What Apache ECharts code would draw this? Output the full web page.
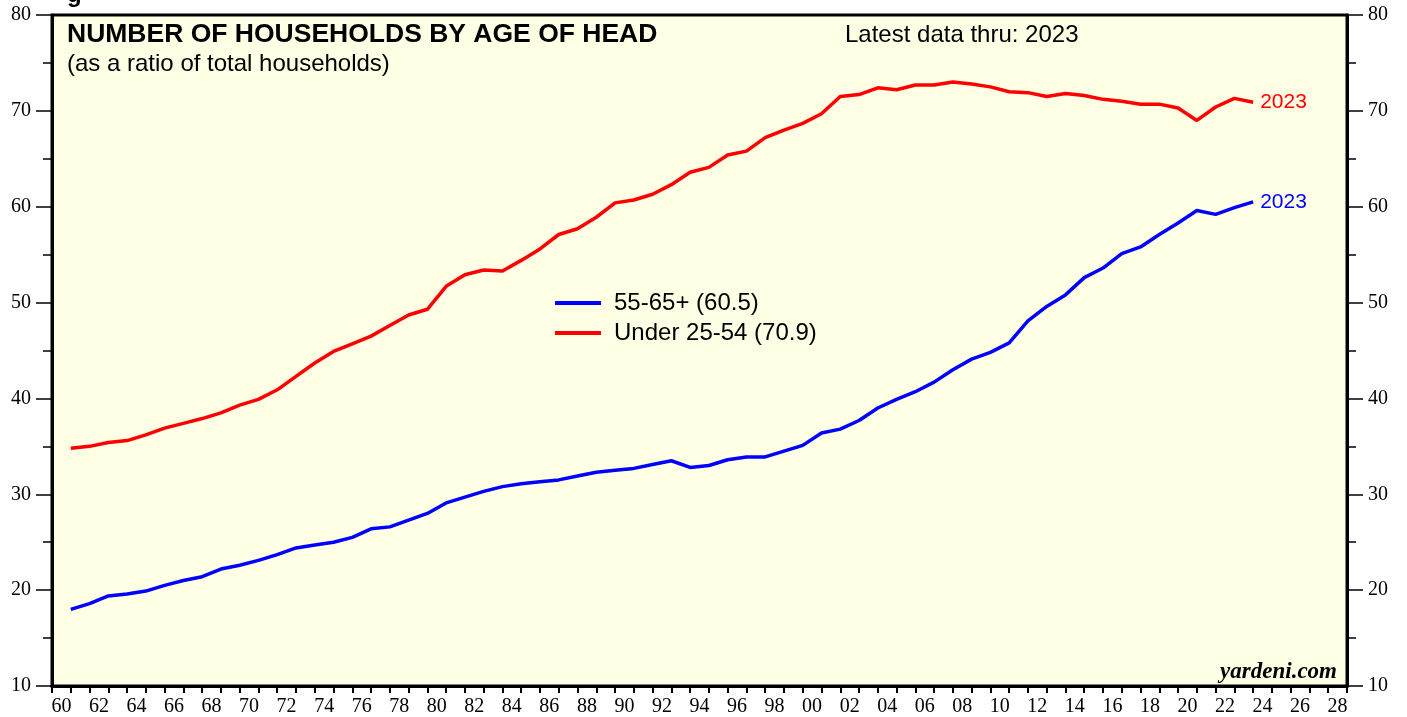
<!DOCTYPE html>
<html>
<head>
<meta charset="utf-8">
<script src="https://cdn.jsdelivr.net/npm/echarts@6/dist/echarts.min.js"></script>
<style>
html,body{margin:0;padding:0;background:#fff;}
#c{width:1407px;height:717px;}
</style>
</head>
<body>
<div id="c"></div>
<script>
// ---- data ----
var years = [1960,1961,1962,1963,1964,1965,1966,1967,1968,1969,
             1970,1971,1972,1973,1974,1975,1976,1977,1978,1979,
             1980,1981,1982,1983,1984,1985,1986,1987,1988,1989,
             1990,1991,1992,1993,1994,1995,1996,1997,1998,1999,
             2000,2001,2002,2003,2004,2005,2006,2007,2008,2009,
             2010,2011,2012,2013,2014,2015,2016,2017,2018,2019,
             2020,2021,2022,2023];
var under2554 = [34.8,35.0,35.4,35.6,36.2,36.9,37.4,37.9,38.5,39.3,
                 39.9,40.9,42.3,43.7,44.9,45.7,46.5,47.6,48.7,49.3,
                 51.7,52.9,53.4,53.3,54.4,55.6,57.1,57.7,58.9,60.4,
                 60.7,61.3,62.3,63.6,64.1,65.4,65.8,67.2,68.0,68.7,
                 69.7,71.5,71.7,72.4,72.2,72.7,72.7,73.0,72.8,72.5,
                 72.0,71.9,71.5,71.8,71.6,71.2,71.0,70.7,70.7,70.3,
                 69.0,70.4,71.3,70.9];
var age5565 = [18.0,18.6,19.4,19.6,19.9,20.5,21.0,21.4,22.2,22.6,
               23.1,23.7,24.4,24.7,25.0,25.5,26.4,26.6,27.3,28.0,
               29.1,29.7,30.3,30.8,31.1,31.3,31.5,31.9,32.3,32.5,
               32.7,33.1,33.5,32.8,33.0,33.6,33.9,33.9,34.5,35.1,
               36.4,36.8,37.7,39.0,39.9,40.7,41.7,43.0,44.1,44.8,
               45.8,48.1,49.6,50.8,52.6,53.6,55.1,55.8,57.1,58.3,
               59.6,59.2,59.9,60.5];
var axisYears = [];
for (var y = 1960; y <= 2028; y++) axisYears.push(String(y));
var seriesNames = ['55-65+ (60.5)', 'Under 25-54 (70.9)'];
var titleText = 'NUMBER OF HOUSEHOLDS BY AGE OF HEAD';
var subtitleText = '(as a ratio of total households)';
var latestText = 'Latest data thru: 2023';
var endLabelText = '2023';

function pairs(vals){ return years.map(function(yr,i){ return [yr, vals[i]]; }); }

var chart = echarts.init(document.getElementById('c'), null, {renderer:'canvas'});
var serif = 'Liberation Serif';
var sans = 'Liberation Sans';
var option = {
  backgroundColor: '#ffffff',
  animation: false,
  grid: {left:52, right:60, top:15, bottom:31, show:true, backgroundColor:'#FFFFE5', borderColor:'#000', borderWidth:3},
  legend: {
    show: true, orient:'vertical', left:550, top:286, itemWidth:46, itemHeight:4, itemGap:6,
    icon:'rect',
    textStyle:{fontFamily:sans, fontSize:24, color:'#000', padding:[0,0,0,8]},
    data: seriesNames
  },
  graphic: [
    {type:'text', left:67, top:21, style:{text:titleText, font:'bold 26.5px "Liberation Sans"', fill:'#000'}},
    {type:'text', left:67, top:52, style:{text:subtitleText, font:'24px "Liberation Sans"', fill:'#000'}},
    {type:'text', left:845, top:23, style:{text:latestText, font:'24px "Liberation Sans"', fill:'#000'}},
    {type:'text', right:70, top:661, style:{text:'yardeni.com', font:'italic bold 23px "Liberation Serif"', fill:'#000'}},
    {type:'text', left:67, top:-17, style:{text:'g', font:'bold 24px "Liberation Sans"', fill:'#000'}}
  ],
  xAxis: [
    {type:'category', data:axisYears, boundaryGap:true, position:'bottom',
     axisLine:{show:true, lineStyle:{color:'#000', width:3}},
     axisTick:{show:true, interval:0, alignWithLabel:false, length:7, lineStyle:{color:'#000', width:2}},
     axisLabel:{interval:1, margin:11, fontFamily:serif, fontSize:20, color:'#000',
       formatter:function(v){ return v.slice(2); }},
     splitLine:{show:false}},
    {type:'value', min:1959, max:2028, show:false}
  ],
  yAxis: [
    {type:'value', min:10, max:80, interval:10, position:'left',
     axisLine:{show:true, lineStyle:{color:'#000', width:3}},
     axisTick:{show:true, length:16, lineStyle:{color:'#000', width:1.5}},
     minorTick:{show:true, splitNumber:2, length:9, lineStyle:{color:'#000', width:1.5}},
     axisLabel:{margin:21, fontFamily:serif, fontSize:20, color:'#000'},
     splitLine:{show:false}},
    {type:'value', min:10, max:80, interval:10, position:'right',
     axisLine:{show:true, lineStyle:{color:'#000', width:3}},
     axisTick:{show:true, length:16, lineStyle:{color:'#000', width:1.5}},
     minorTick:{show:true, splitNumber:2, length:9, lineStyle:{color:'#000', width:1.5}},
     axisLabel:{margin:21, fontFamily:serif, fontSize:20, color:'#000'},
     splitLine:{show:false}}
  ],
  series: [
    {name:seriesNames[0], type:'line', xAxisIndex:1, yAxisIndex:0, data:pairs(age5565),
     showSymbol:false, symbol:'none', color:'#0000FF',
     lineStyle:{color:'#0000FF', width:3.5},
     endLabel:{show:true, formatter:endLabelText, distance:7, color:'#0000FF', fontFamily:sans, fontSize:21}},
    {name:seriesNames[1], type:'line', xAxisIndex:1, yAxisIndex:0, data:pairs(under2554),
     showSymbol:false, symbol:'none', color:'#FF0000',
     lineStyle:{color:'#FF0000', width:3.5},
     endLabel:{show:true, formatter:endLabelText, distance:7, color:'#FF0000', fontFamily:sans, fontSize:21}}
  ]
};
chart.setOption(option);
</script>
</body>
</html>
